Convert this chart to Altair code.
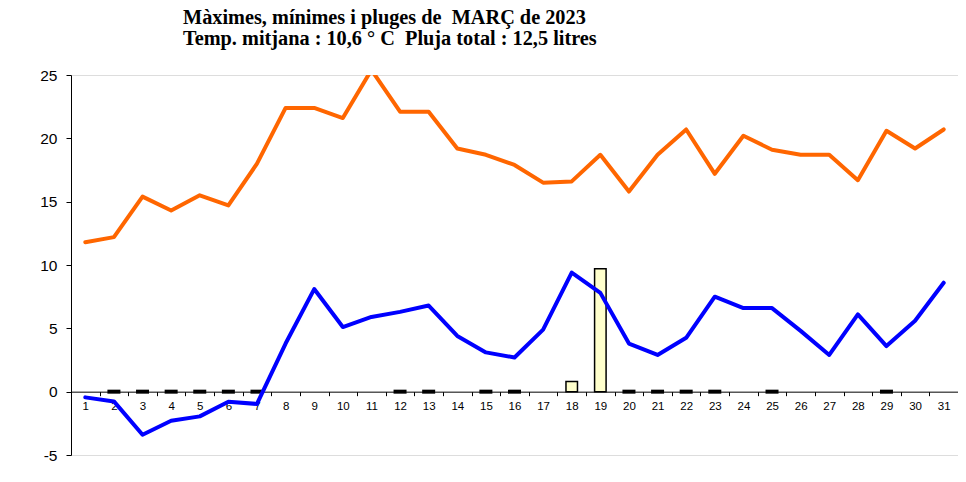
import altair as alt
import pandas as pd

days = [str(d) for d in range(1, 32)]
tmax = [11.8, 12.2, 15.4, 14.3, 15.5, 14.7, 18.0, 22.4, 22.4, 21.6, 25.4,
        22.1, 22.1, 19.2, 18.7, 17.9, 16.5, 16.6, 18.7, 15.8, 18.7, 20.7,
        17.2, 20.2, 19.1, 18.7, 18.7, 16.7, 20.6, 19.2, 20.7]
tmin = [-0.45, -0.77, -3.4, -2.3, -1.95, -0.8, -0.97, 3.8, 8.1, 5.1, 5.9,
        6.3, 6.8, 4.4, 3.1, 2.7, 4.9, 9.4, 7.8, 3.8, 2.9, 4.25, 7.5, 6.6,
        6.6, 4.8, 2.9, 6.1, 3.6, 5.6, 8.6]
rain = [None, 0, 0, 0, 0, 0, 0, None, None, None, None, 0, 0, None, 0, 0,
        None, 0.8, 9.7, 0, 0, 0, 0, None, 0, None, None, None, 0, None, None]
yticks = [-5, 0, 5, 10, 15, 20, 25]
title_lines = ["Màximes, mínimes i pluges de \u00a0MARÇ de 2023",
               "Temp. mitjana : 10,6 ° C \u00a0Pluja total : 12,5 litres"]

df = pd.DataFrame({"dia": days, "tmax": tmax, "tmin": tmin, "pluja": rain})

W, H = 887, 380
YMIN, YMAX = -5, 25
zero_offset = -H * (0 - YMIN) / (YMAX - YMIN)

xenc = alt.X(
    "dia:O", sort=days,
    scale=alt.Scale(paddingInner=0, paddingOuter=0),
    axis=alt.Axis(title=None, labelAngle=0, offset=zero_offset,
                  tickBand="extent", domainColor="black", tickColor="black",
                  tickSize=4, labelFont="Liberation Sans", labelFontSize=11.5,
                  labelColor="black", labelPadding=5, grid=False),
)
yscale = alt.Scale(domain=[YMIN, YMAX], nice=False, zero=False)
yaxis = alt.Axis(values=yticks, title=None, grid=False, domainColor="black",
                 tickColor="black", tickSize=5, labelFont="Liberation Sans",
                 labelFontSize=15.5, labelColor="black", labelPadding=9,
                 labelExpr="'' + datum.value")

base = alt.Chart(df)

bars = base.transform_filter("isValid(datum.pluja) && datum.pluja > 0").mark_bar(
    size=11.5, fill="#FFFFCC", stroke="black", strokeWidth=1.5
).encode(x=xenc, y=alt.Y("pluja:Q", scale=yscale, axis=yaxis))

zeros = base.transform_filter("isValid(datum.pluja) && datum.pluja == 0").mark_tick(
    size=13, thickness=4, color="black", orient="horizontal", opacity=1
).encode(x=xenc, y=alt.Y("pluja:Q", scale=yscale, axis=yaxis))

lmax = base.mark_line(color="#FF6600", strokeWidth=4, clip=True,
                      strokeJoin="round", strokeCap="round").encode(
    x=xenc, y=alt.Y("tmax:Q", scale=yscale, axis=yaxis))
lmin = base.mark_line(color="#0000FF", strokeWidth=4, clip=True,
                      strokeJoin="round", strokeCap="round").encode(
    x=xenc, y=alt.Y("tmin:Q", scale=yscale, axis=yaxis))

chart = alt.layer(bars, zeros, lmax, lmin).properties(
    width=W, height=H,
    title=alt.TitleParams(text=title_lines, anchor="start", frame="group",
                          dx=112, offset=19, font="Liberation Serif",
                          fontSize=20.3, fontWeight="bold", color="black",
                          lineHeight=21),
    autosize=alt.AutoSizeParams(type="none"),
    padding={"left": 63, "top": 67, "right": 0, "bottom": 27},
).configure_view(stroke=None).configure(background="white")

chart.save("out.html", embed_options={"renderer": "svg", "actions": False})
